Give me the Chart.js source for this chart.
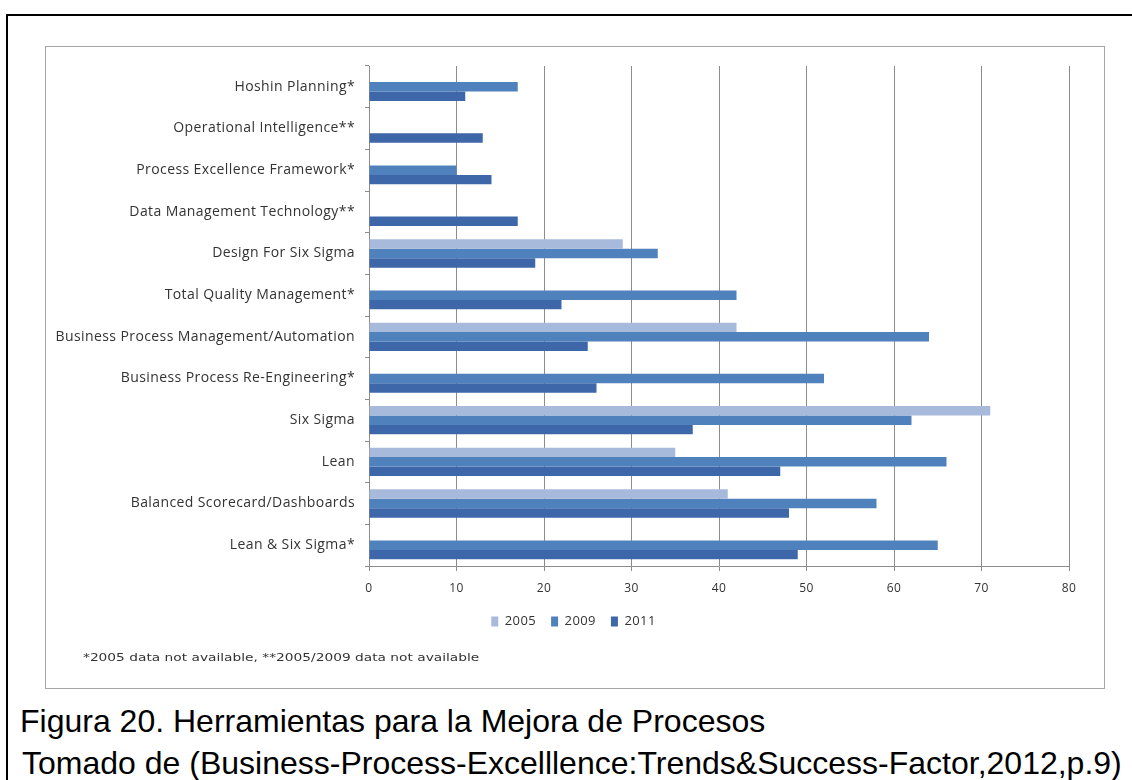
<!DOCTYPE html>
<html>
<head>
<meta charset="utf-8">
<script src="https://cdn.jsdelivr.net/npm/chart.js@4.4.1/dist/chart.umd.min.js"></script>
<style>
  body { margin: 0; width: 1132px; height: 780px; background: #fff; overflow: hidden; position: relative; font-family: "Open Sans", sans-serif; }
  #frame { position: absolute; left: 6px; top: 14px; width: 1200px; height: 900px; border-top: 2px solid #000; border-left: 2px solid #000; }
  #box { position: absolute; left: 45px; top: 46px; width: 1058px; height: 641px; border: 1px solid #a6a6a6; }
  #chartWrap { position: absolute; left: 46px; top: 47px; width: 1058px; height: 620px; }
  #note { position: absolute; left: 83px; top: 651px; font-family: "DejaVu Sans", sans-serif; font-size: 11px; color: #333; transform: scaleX(1.25); transform-origin: left center; white-space: nowrap; }
  .cap { position: absolute; left: 20px; font-family: "Liberation Sans", Arial, sans-serif; font-size: 32px; color: #000; white-space: nowrap; }
</style>
</head>
<body>
<div id="frame"></div>
<div id="box"></div>
<div id="chartWrap"><canvas id="toolsChart"></canvas></div>
<div id="note">*2005 data not available, **2005/2009 data not available</div>
<div class="cap" style="top:703px;">Figura 20. Herramientas para la Mejora de Procesos</div>
<div class="cap" style="top:745px; left:22px;">Tomado de (Business-Process-Excelllence:Trends&amp;Success-Factor,2012,p.9)</div>

<script>
// categories, top to bottom as in the figure
const tools = [
    'Hoshin Planning*',
    'Operational Intelligence**',
    'Process Excellence Framework*',
    'Data Management Technology**',
    'Design For Six Sigma',
    'Total Quality Management*',
    'Business Process Management/Automation',
    'Business Process Re-Engineering*',
    'Six Sigma',
    'Lean',
    'Balanced Scorecard/Dashboards',
    'Lean & Six Sigma*'
];
const values2005 = [null, null, null, null, 29, null, 42, null, 71, 35, 41, null];
const values2009 = [17, null, 10, null, 33, 42, 64, 52, 62, 66, 58, 65];
const values2011 = [11, 13, 14, 17, 19, 22, 25, 26, 37, 47, 48, 49];
const years = ['2005', '2009', '2011'];
const xTicks = [0, 10, 20, 30, 40, 50, 60, 70, 80];

const colors = ['#a7badc', '#4f81bd', '#3d67a9'];
const series = [values2005, values2009, values2011];

// the original text is a bit stretched, widen it a little
// and the legend sits centred on the whole box, not on the plot
const tweakPlugin = {
    id: 'tweak',
    beforeLayout(chart) { chart.ctx.letterSpacing = '0.4px'; },
    afterLayout(chart) {
        if (chart.legend) {
            chart.legend.left += 16;
            chart.legend.right += 16;
        }
    },
    beforeDraw(chart) { chart.ctx.letterSpacing = '0.4px'; }
};

const ctx = document.getElementById('toolsChart').getContext('2d');
new Chart(ctx, {
    type: 'bar',
    data: {
        labels: tools,
        datasets: years.map((y, i) => ({
            label: y,
            data: series[i],
            backgroundColor: colors[i],
            borderWidth: 0,
            categoryPercentage: 0.68,
            barPercentage: 1.0
        }))
    },
    plugins: [tweakPlugin],
    options: {
        indexAxis: 'y',
        responsive: true,
        maintainAspectRatio: false,
        animation: false,
        layout: { padding: { top: 19, right: 35, left: 0, bottom: 29 } },
        plugins: {
            legend: {
                position: 'bottom',
                labels: {
                    boxWidth: 7,
                    boxHeight: 10,
                    padding: 15,
                    color: '#333',
                    font: { family: 'Open Sans', size: 13 }
                }
            },
            tooltip: { enabled: false }
        },
        scales: {
            x: {
                min: 0,
                max: 80,
                afterBuildTicks: function(scale) {
                    scale.ticks = xTicks.map(v => ({ value: v }));
                },
                afterFit: function(scale) { scale.height = 34; },
                grid: { color: '#8c8c8c', lineWidth: 1, tickLength: 5, drawTicks: true },
                border: { color: '#8c8c8c', width: 1 },
                ticks: {
                    padding: 10,
                    color: '#333',
                    font: { family: 'Open Sans', size: 12 }
                }
            },
            y: {
                afterFit: function(scale) { scale.width = 323; },
                grid: { drawOnChartArea: false, offset: true, color: '#8c8c8c', tickLength: 4 },
                border: { color: '#8c8c8c', width: 1 },
                ticks: {
                    padding: 10,
                    color: '#333',
                    autoSkip: false,
                    font: { family: 'Open Sans', size: 14 }
                }
            }
        }
    }
});
</script>
</body>
</html>
